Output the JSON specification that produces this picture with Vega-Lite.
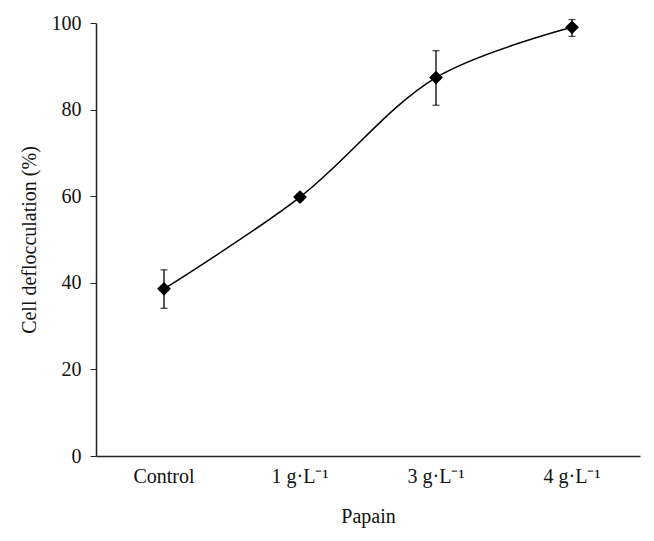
{
  "$schema": "https://vega.github.io/schema/vega-lite/v6.json",
  "width": 544,
  "height": 433,
  "autosize": {"type": "none"},
  "padding": {"left": 96, "top": 23, "right": 14, "bottom": 85},
  "background": "white",
  "config": {
    "view": {"stroke": null},
    "font": "Liberation Serif",
    "axis": {"grid": false, "domainColor": "#222", "tickColor": "#222", "labelColor": "#111", "titleColor": "#111", "labelFont": "Liberation Serif", "titleFont": "Liberation Serif", "titleFontWeight": "normal", "labelFontSize": 20, "titleFontSize": 20, "domainWidth": 1.5}
  },
  "data": {
    "values": [
      {"dose": "Control", "mean": 38.6, "lo": 34.1, "hi": 43.0},
      {"dose": "1 g·L⁻¹", "mean": 59.8, "lo": 59.0, "hi": 60.6},
      {"dose": "3 g·L⁻¹", "mean": 87.4, "lo": 81.0, "hi": 93.6},
      {"dose": "4 g·L⁻¹", "mean": 99.0, "lo": 96.9, "hi": 100.8}
    ]
  },
  "encoding": {
    "x": {
      "field": "dose", "type": "nominal", "sort": null,
      "scale": {"paddingInner": 0, "paddingOuter": 0},
      "axis": {"title": "Papain", "labelAngle": 0, "ticks": false, "labelPadding": 10, "titlePadding": 20}
    }
  },
  "layer": [
    {
      "mark": {"type": "line", "interpolate": "catmull-rom", "color": "black", "strokeWidth": 1.5},
      "encoding": {
        "y": {"field": "mean", "type": "quantitative",
          "scale": {"domain": [0, 100]},
          "axis": {"title": "Cell deflocculation (%)", "values": [0, 20, 40, 60, 80, 100], "tickSize": 6, "labelPadding": 9, "titlePadding": 12}}
      }
    },
    {
      "mark": {"type": "rule", "color": "black", "strokeWidth": 1.3},
      "encoding": {"y": {"field": "lo", "type": "quantitative"}, "y2": {"field": "hi"}}
    },
    {
      "mark": {"type": "tick", "color": "black", "thickness": 1.3, "size": 7, "orient": "horizontal"},
      "encoding": {"y": {"field": "lo", "type": "quantitative"}}
    },
    {
      "mark": {"type": "tick", "color": "black", "thickness": 1.3, "size": 7, "orient": "horizontal"},
      "encoding": {"y": {"field": "hi", "type": "quantitative"}}
    },
    {
      "mark": {"type": "point", "shape": "diamond", "filled": true, "color": "black", "size": 190, "opacity": 1},
      "encoding": {"y": {"field": "mean", "type": "quantitative"}}
    }
  ]
}
